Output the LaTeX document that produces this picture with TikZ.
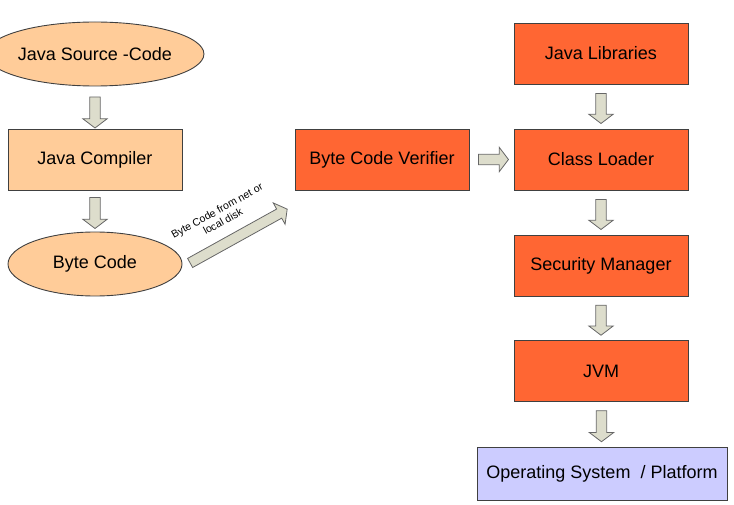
\documentclass[tikz,border=0pt]{standalone}
\usepackage{fontspec}
\setmainfont{Liberation Sans}
\usetikzlibrary{shapes.geometric,shapes.arrows,calc}
\definecolor{peach}{HTML}{FFCC99}
\definecolor{redor}{HTML}{FF6633}
\definecolor{lav}{HTML}{CCCCFF}
\definecolor{arfill}{HTML}{DDDDCC}
\definecolor{edge}{HTML}{404040}
\tikzset{
  base/.style={draw=edge, line width=0.9pt, inner sep=0pt, font=\fontsize{18}{21}\selectfont, text=black},
  peachell/.style={base, ellipse, fill=peach, minimum width=174pt, minimum height=64pt},
  peachbox/.style={base, rectangle, fill=peach, minimum width=174pt, minimum height=61pt},
  redbox/.style={base, rectangle, fill=redor, minimum width=174pt, minimum height=61pt},
  osbox/.style={base, rectangle, fill=lav, minimum width=250pt, minimum height=53pt},
  blockarrow/.style={shape=single arrow, draw=edge!80, fill=arfill, line width=0.8pt,
    inner xsep=0pt, inner ysep=4.8pt, single arrow head extend=7pt,
    single arrow tip angle=106, minimum height=#1},
  smalllbl/.style={font=\fontsize{10.5}{12}\selectfont, align=center, inner sep=0pt}
}
\begin{document}
\begin{tikzpicture}[x=1pt,y=-1pt]
\useasboundingbox (0,0) rectangle (734,505);
% left column
\node[peachell] (src) at (95,54) {Java Source -Code};
\node[peachbox] (comp) at (95,159.5) {Java Compiler};
\node[peachell] (bc) at (95,264) {Byte Code};
% middle
\node[redbox] (ver) at (382,159.5) {Byte Code Verifier};
% right column
\node[redbox] (lib) at (601,53.5) {Java Libraries};
\node[redbox] (cl) at (601,159.5) {Class Loader};
\node[redbox] (sec) at (601,265.5) {Security Manager};
\node[redbox] (jvm) at (601,371) {JVM};
\node[osbox] (os) at (602,473.5) {Operating System\ \ / Platform};
% vertical block arrows
\node[blockarrow=31pt, rotate=-90] (a1) at ($(src.south)!0.5!(comp.north)+(0,3)$) {};
\node[blockarrow=31pt, rotate=-90] (a2) at ($(comp.south)!0.5!(bc.north)$) {};
\node[blockarrow=30pt, rotate=-90] (a3) at ($(lib.south)!0.5!(cl.north)$) {};
\node[blockarrow=30pt, rotate=-90] (a4) at ($(cl.south)!0.5!(sec.north)$) {};
\node[blockarrow=30pt, rotate=-90] (a5) at ($(sec.south)!0.5!(jvm.north)$) {};
\node[blockarrow=31pt, rotate=-90] (a6) at ($(jvm.south)!0.5!(os.north)$) {};
% horizontal block arrow
\node[blockarrow=30pt] (a7) at ($(ver.east)!0.5!(cl.west)$) {};
% diagonal block arrow
\node[blockarrow=111pt, rotate=29] (a8) at ($(bc.east)+(54.5,-27)$) {};
\node[smalllbl, rotate=29] (lbl) at ($(a8.center)+(-17,-21)$) {Byte Code from net or\\local disk};
\end{tikzpicture}
\end{document}
